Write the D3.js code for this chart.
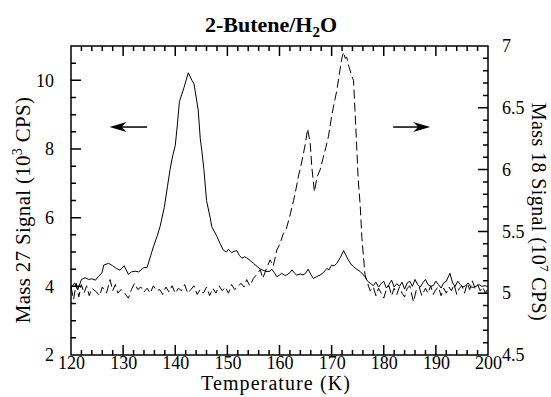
<!doctype html>
<html lang="en">
<head>
<meta charset="utf-8">
<title>2-Butene/H2O</title>
<script src="https://cdn.jsdelivr.net/npm/d3@7"></script>
</head>
<body style="margin:0">
<script>
// tick values
var xTicks = [120, 130, 140, 150, 160, 170, 180, 190, 200];
var leftTicks = [2, 4, 6, 8, 10];
var rightTicks = [4.5, 5, 5.5, 6, 6.5, 7];

// Mass 27 signal (10^3 CPS), solid line, left axis  [T, value]
var mass27 = [
  [120,3.95],[120.7,4.1],[121.3,3.9],[122,4.2],[122.7,4.25],[123.4,4.2],[124,4.22],[124.7,4.18],
  [125.3,4.3],[125.9,4.38],[126.3,4.62],[127.2,4.67],[128,4.6],[128.7,4.52],[129.4,4.47],[130.2,4.6],
  [131,4.35],[131.6,4.42],[132.3,4.44],[133,4.42],[133.9,4.54],[134.6,4.55],[135.3,4.9],[135.8,5.15],
  [136.5,5.45],[137.1,5.75],[137.9,6.3],[138.5,6.9],[139,7.4],[139.5,7.8],[140,8.1],[140.4,8.7],
  [140.8,9.38],[141.7,9.8],[142.5,10.22],[143.2,10.0],[143.6,9.9],[144.4,9.14],[144.8,8.3],[145.1,7.95],
  [145.5,7.4],[146,6.5],[146.7,6.0],[147,5.74],[148,5.45],[148.6,5.25],[149.2,5.06],[149.8,5.0],
  [150.2,5.08],[150.8,4.98],[151.3,5.02],[151.8,5.04],[152.3,4.9],[152.8,4.82],[153.3,4.86],[153.7,4.83],
  [154.4,4.75],[155,4.67],[155.7,4.58],[156.3,4.5],[157,4.46],[157.6,4.43],[158.2,4.44],[158.5,4.5],
  [159,4.4],[159.5,4.28],[160,4.33],[160.4,4.38],[161,4.32],[161.4,4.33],[162,4.4],[162.4,4.48],
  [162.9,4.38],[163.3,4.33],[164,4.36],[164.5,4.33],[165,4.38],[165.5,4.5],[166,4.35],[166.5,4.23],
  [167.1,4.28],[167.8,4.33],[168.4,4.4],[169.1,4.52],[169.5,4.48],[170,4.62],[170.5,4.6],[171,4.67],
  [171.7,4.85],[172.3,5.04],[172.7,4.92],[173.2,4.77],[173.7,4.65],[174.2,4.57],[174.8,4.5],[175.5,4.43],
  [176,4.35],[176.4,4.28],[176.9,4.15],[177.4,4.09],[178,4.02],[178.5,4.12],[179,3.98],[179.5,4.08],
  [180,4.15],[180.5,3.95],[181,4.05],[181.5,4.18],[182,3.98],[182.5,4.08],[183,4.0],[183.5,4.12],
  [184,3.92],[184.5,4.1],[185,4.15],[185.5,4.0],[186,4.2],[186.5,4.05],[187,3.98],[187.5,4.1],
  [188,4.2],[188.5,4.05],[189,4.0],[189.5,4.02],[190,4.15],[190.5,4.05],[191,3.95],[191.5,4.1],
  [192,4.15],[192.7,4.38],[193.2,4.1],[193.7,4.0],[194.2,4.15],[194.7,4.05],[195.2,3.98],[195.7,4.02],
  [196.2,4.1],[196.7,3.98],[197.2,3.97],[197.7,4.0],[198.3,4.05],[198.8,4.0],[199.4,4.02],[200,3.99]
];

// Mass 18 signal (10^7 CPS), dashed line, right axis  [T, value]
var mass18 = [
  [120,5.05],[120.5,4.95],[121,5.08],[121.5,4.97],[122,5.07],[122.5,5.0],[123,5.06],[123.5,4.98],
  [124,5.04],[124.9,5.01],[125.5,4.98],[126,5.05],[126.8,5.0],[127.5,5.11],[128,5.02],[128.5,5.07],
  [129,5.0],[129.6,5.03],[130.3,5.0],[131,4.96],[131.6,5.03],[132.2,5.08],[132.8,5.03],[133.4,5.05],
  [134,5.01],[134.6,5.04],[135.2,5.0],[135.8,5.06],[136.4,5.02],[137,5.03],[137.6,4.99],[138.2,5.05],
  [138.8,5.01],[139.4,5.06],[140,5.0],[140.6,5.04],[141.2,5.02],[141.8,5.07],[142.4,5.0],[143,5.03],
  [143.6,5.06],[144.2,4.99],[144.8,5.03],[145.4,5.0],[146,5.05],[146.6,4.98],[147.2,5.04],[147.8,5.0],
  [148.4,5.06],[149,5.02],[149.6,5.05],[150.2,5.0],[150.8,5.07],[151.4,5.03],[152,5.05],[152.6,5.08],
  [153.2,5.05],[153.7,5.11],[154.3,5.06],[155,5.12],[155.6,5.15],[156.3,5.19],[156.8,5.12],[157.5,5.2],
  [158.2,5.27],[158.8,5.22],[159.5,5.35],[160.1,5.4],[160.7,5.48],[161.3,5.52],[161.9,5.61],[162.7,5.75],
  [163.2,5.85],[163.6,5.94],[164.1,6.03],[164.6,6.13],[165,6.22],[165.4,6.33],[165.9,6.21],[166.2,6.02],
  [166.7,5.82],[167.2,5.94],[167.8,6.0],[168.4,6.1],[168.9,6.18],[169.4,6.27],[170,6.43],[170.5,6.54],
  [171,6.64],[171.5,6.78],[172,6.91],[172.3,6.95],[172.6,6.9],[172.9,6.91],[173.2,6.85],[173.7,6.78],
  [174.2,6.72],[174.5,6.46],[174.8,6.2],[175.1,5.92],[175.5,5.7],[175.8,5.45],[176.1,5.3],[176.4,5.15],
  [176.9,5.08],[177.4,5.02],[178,5.05],[178.5,4.98],[179,5.04],[179.5,5.0],[180,4.96],[180.5,5.03],
  [181,5.06],[181.5,4.98],[182,5.04],[182.5,4.99],[183,5.05],[183.5,5.0],[184,4.97],[184.5,5.04],
  [185,5.06],[185.7,4.93],[186.2,5.02],[186.8,5.05],[187.3,4.98],[188,5.04],[188.5,5.0],[189,5.06],
  [189.5,4.99],[190,5.03],[190.5,5.05],[191,4.98],[191.5,5.04],[192,5.0],[192.5,5.05],[193,5.02],
  [193.5,5.07],[194,4.99],[194.5,5.04],[195,5.06],[195.5,5.0],[196,5.08],[196.5,5.03],[197,5.1],
  [197.5,5.04],[198,5.07],[198.5,5.02],[199,5.05],[199.5,5.0],[200,5.04]
];

// arrows: [tailT, tipT, value on left axis]
var arrows = [[134.6, 127.4, 8.64], [181.8, 188.9, 8.64]];

var W = 551, H = 397;
var margin = {top: 46, right: 63, bottom: 42, left: 71};
var serif = '"Liberation Serif", "Times New Roman", Times, serif';

var svg = d3.select("body").append("svg")
    .attr("width", W).attr("height", H);

var x = d3.scaleLinear().domain([120, 200]).range([margin.left, W - margin.right]);
var yL = d3.scaleLinear().domain([2, 11]).range([H - margin.bottom, margin.top]);
var yR = d3.scaleLinear().domain([4.5, 7]).range([H - margin.bottom, margin.top]);

var bottomY = H - margin.bottom, rightX = W - margin.right;

// frame + inward ticks in one path
var p = d3.path();
p.rect(margin.left, margin.top, rightX - margin.left, bottomY - margin.top);
function xt(vals, len) {
  vals.forEach(function(d) {
    p.moveTo(x(d), bottomY); p.lineTo(x(d), bottomY - len);
    p.moveTo(x(d), margin.top); p.lineTo(x(d), margin.top + len);
  });
}
function yt(scale, x0, dir, vals, len) {
  vals.forEach(function(d) { p.moveTo(x0, scale(d)); p.lineTo(x0 + dir * len, scale(d)); });
}
xt(d3.range(120, 201, 2), 5);
xt(xTicks, 10);
yt(yL, margin.left, 1, d3.range(2, 11.01, 0.5), 5);
yt(yL, margin.left, 1, leftTicks, 10);
yt(yR, rightX, -1, d3.range(4.5, 7.001, 0.1), 5);
yt(yR, rightX, -1, rightTicks, 10);
svg.append("path").attr("d", p.toString())
   .attr("fill", "none").attr("stroke", "#000").attr("stroke-width", 1.5);

// tick labels via the d3 axes
function labels(g) {
  g.select(".domain").remove();
  g.selectAll(".tick line").remove();
  g.selectAll("text").attr("font-size", 18).attr("font-family", serif).attr("fill", "#000");
}
svg.append("g").attr("transform", "translate(0," + bottomY + ")")
   .call(d3.axisBottom(x).tickValues(xTicks).tickSize(0).tickPadding(1))
   .call(labels);
svg.append("g").attr("transform", "translate(" + margin.left + ",0)")
   .call(d3.axisLeft(yL).tickValues(leftTicks).tickSize(0).tickPadding(17))
   .call(labels);
svg.append("g").attr("transform", "translate(" + rightX + ",0)")
   .call(d3.axisRight(yR).tickValues(rightTicks).tickSize(0).tickPadding(14)
           .tickFormat(d3.format("~g")))
   .call(labels);

// lines
var line27 = d3.line().x(d => x(d[0])).y(d => yL(d[1]));
var line18 = d3.line().x(d => x(d[0])).y(d => yR(d[1]));

svg.append("path").datum(mass18)
   .attr("d", line18).attr("fill", "none").attr("stroke", "#000")
   .attr("stroke-width", 1).attr("stroke-dasharray", "9,4");
svg.append("path").datum(mass27)
   .attr("d", line27).attr("fill", "none").attr("stroke", "#000").attr("stroke-width", 1);

// arrows
arrows.forEach(function(a) {
  var x0 = x(a[0]), x1 = x(a[1]), yy = yL(a[2]);
  var dir = x1 > x0 ? 1 : -1;
  svg.append("line").attr("x1", x0).attr("x2", x1 - dir * 10)
     .attr("y1", yy).attr("y2", yy).attr("stroke", "#000").attr("stroke-width", 1.5);
  svg.append("path")
     .attr("d", "M" + x1 + "," + yy + "L" + (x1 - dir * 17) + "," + (yy - 5) +
                "L" + (x1 - dir * 12) + "," + yy + "L" + (x1 - dir * 17) + "," + (yy + 5) + "Z")
     .attr("fill", "#000");
});

// title
var title = svg.append("text").attr("x", 271).attr("y", 32).attr("font-family", serif)
   .attr("text-anchor", "middle").attr("font-size", 22).attr("font-weight", "bold");
title.append("tspan").text("2-Butene/H");
title.append("tspan").attr("font-size", 15).attr("dy", 5).text("2");
title.append("tspan").attr("dy", -5).text("O");

// axis titles
svg.append("text").attr("x", 276).attr("y", 390).attr("font-family", serif)
   .attr("text-anchor", "middle").attr("font-size", 20).attr("letter-spacing", 1.1)
   .text("Temperature (K)");

var lt = svg.append("text").attr("transform", "translate(30,210) rotate(-90)")
   .attr("font-family", serif)
   .attr("text-anchor", "middle").attr("font-size", 21).attr("letter-spacing", 0.3);
lt.append("tspan").text("Mass 27 Signal (10");
lt.append("tspan").attr("font-size", 14).attr("dy", -8).text("3");
lt.append("tspan").attr("dy", 8).text(" CPS)");

var rt = svg.append("text").attr("transform", "translate(532,212) rotate(90)")
   .attr("font-family", serif)
   .attr("text-anchor", "middle").attr("font-size", 20).attr("letter-spacing", 0.4);
rt.append("tspan").text("Mass 18 Signal (10");
rt.append("tspan").attr("font-size", 13).attr("dy", -8).text("7");
rt.append("tspan").attr("dy", 8).text(" CPS)");
</script>
</body>
</html>
